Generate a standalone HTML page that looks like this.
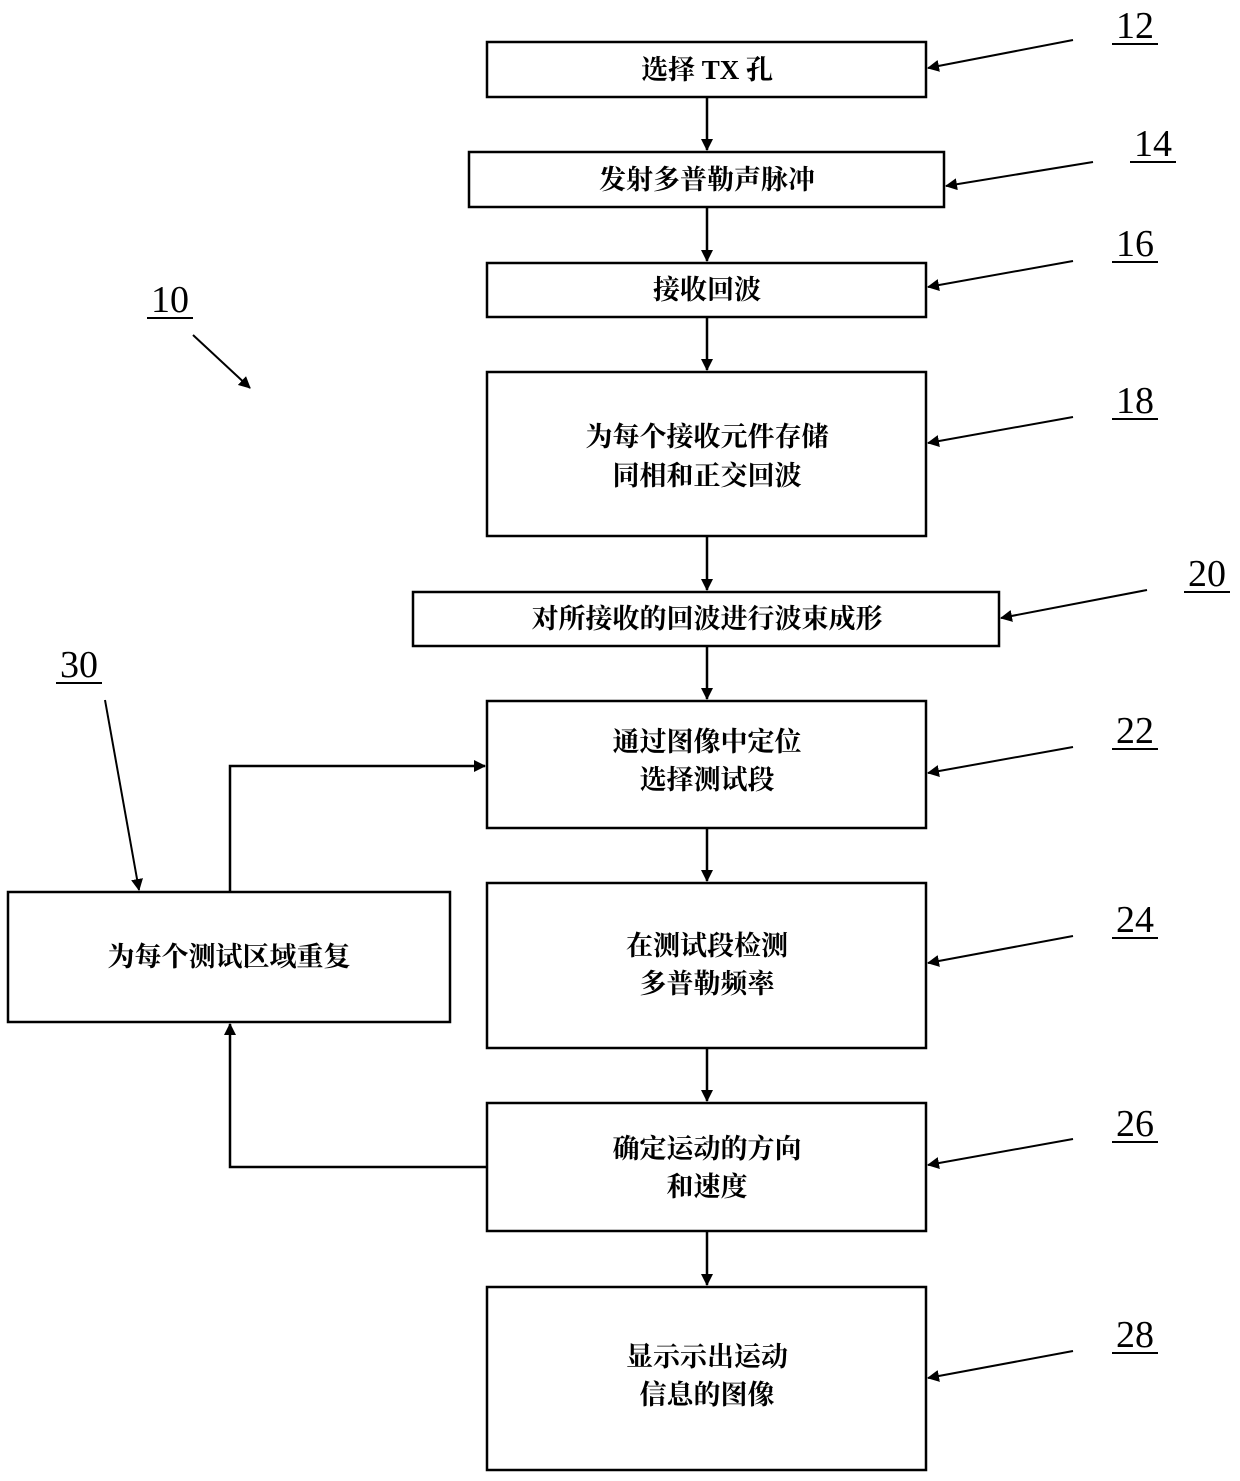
<!DOCTYPE html>
<html><head><meta charset="utf-8"><style>
html,body{margin:0;padding:0;background:#fff;}
svg{display:block;}
text{font-family:"Liberation Serif","Noto Serif CJK SC","Noto Sans CJK SC",serif;fill:#000;}
.t{font-size:27px;text-anchor:middle;font-weight:bold;}
.n{font-size:38px;text-anchor:middle;}
</style></head><body>
<svg width="1240" height="1481" viewBox="0 0 1240 1481" xmlns="http://www.w3.org/2000/svg">
<defs>
<marker id="a" markerWidth="12" markerHeight="12" refX="11" refY="6" orient="auto" markerUnits="userSpaceOnUse">
<path d="M0,0 L12,6 L0,12 z" fill="#000"/></marker>
</defs>
<g fill="none" stroke="#000" stroke-width="2.5">
<rect x="487" y="42" width="439" height="55"/>
<rect x="469" y="152" width="475" height="55"/>
<rect x="487" y="263" width="439" height="54"/>
<rect x="487" y="372" width="439" height="164"/>
<rect x="413" y="592" width="586" height="54"/>
<rect x="487" y="701" width="439" height="127"/>
<rect x="487" y="883" width="439" height="165"/>
<rect x="487" y="1103" width="439" height="128"/>
<rect x="487" y="1287" width="439" height="183"/>
<rect x="8" y="892" width="442" height="130"/>
</g>
<g stroke="#000" stroke-width="2.5" fill="none" marker-end="url(#a)">
<line x1="707" y1="97" x2="707" y2="150"/>
<line x1="707" y1="207" x2="707" y2="261"/>
<line x1="707" y1="317" x2="707" y2="370"/>
<line x1="707" y1="536" x2="707" y2="590"/>
<line x1="707" y1="646" x2="707" y2="699"/>
<line x1="707" y1="828" x2="707" y2="881"/>
<line x1="707" y1="1048" x2="707" y2="1101"/>
<line x1="707" y1="1231" x2="707" y2="1285"/>
<polyline points="487,1167 230,1167 230,1024"/>
<polyline points="230,892 230,766 485,766"/>
</g>
<g stroke="#000" stroke-width="2" fill="none" marker-end="url(#a)">
<line x1="1073" y1="40" x2="928" y2="68"/>
<line x1="1093" y1="162" x2="946" y2="186"/>
<line x1="1073" y1="261" x2="928" y2="287"/>
<line x1="1073" y1="417" x2="928" y2="443"/>
<line x1="1147" y1="590" x2="1001" y2="618"/>
<line x1="1073" y1="747" x2="928" y2="773"/>
<line x1="1073" y1="936" x2="928" y2="963"/>
<line x1="1073" y1="1139" x2="928" y2="1165"/>
<line x1="1073" y1="1351" x2="928" y2="1378"/>
<line x1="193" y1="335" x2="250" y2="388"/>
<line x1="105" y1="700" x2="139" y2="890"/>
</g>
<text class="t" x="707" y="79">选择 TX 孔</text>
<text class="t" x="707" y="189">发射多普勒声脉冲</text>
<text class="t" x="707" y="299">接收回波</text>
<text class="t" x="707" y="446">为每个接收元件存储</text>
<text class="t" x="707" y="485">同相和正交回波</text>
<text class="t" x="707" y="628">对所接收的回波进行波束成形</text>
<text class="t" x="707" y="751">通过图像中定位</text>
<text class="t" x="707" y="789">选择测试段</text>
<text class="t" x="707" y="955">在测试段检测</text>
<text class="t" x="707" y="993">多普勒频率</text>
<text class="t" x="707" y="1158">确定运动的方向</text>
<text class="t" x="707" y="1196">和速度</text>
<text class="t" x="707" y="1366">显示示出运动</text>
<text class="t" x="707" y="1404">信息的图像</text>
<text class="t" x="229" y="966">为每个测试区域重复</text>
<g class="n">
<text class="n" x="1135" y="38">12</text>
<text class="n" x="1153" y="156">14</text>
<text class="n" x="1135" y="256">16</text>
<text class="n" x="1135" y="413">18</text>
<text class="n" x="1207" y="586">20</text>
<text class="n" x="1135" y="743">22</text>
<text class="n" x="1135" y="932">24</text>
<text class="n" x="1135" y="1136">26</text>
<text class="n" x="1135" y="1347">28</text>
<text class="n" x="170" y="312">10</text>
<text class="n" x="79" y="677">30</text>
</g>
<g stroke="#000" stroke-width="2">
<line x1="1112" y1="44" x2="1158" y2="44"/>
<line x1="1130" y1="162" x2="1176" y2="162"/>
<line x1="1112" y1="262" x2="1158" y2="262"/>
<line x1="1112" y1="419" x2="1158" y2="419"/>
<line x1="1184" y1="592" x2="1230" y2="592"/>
<line x1="1112" y1="749" x2="1158" y2="749"/>
<line x1="1112" y1="938" x2="1158" y2="938"/>
<line x1="1112" y1="1142" x2="1158" y2="1142"/>
<line x1="1112" y1="1353" x2="1158" y2="1353"/>
<line x1="147" y1="318" x2="193" y2="318"/>
<line x1="56" y1="683" x2="102" y2="683"/>
</g>
</svg>
</body></html>
